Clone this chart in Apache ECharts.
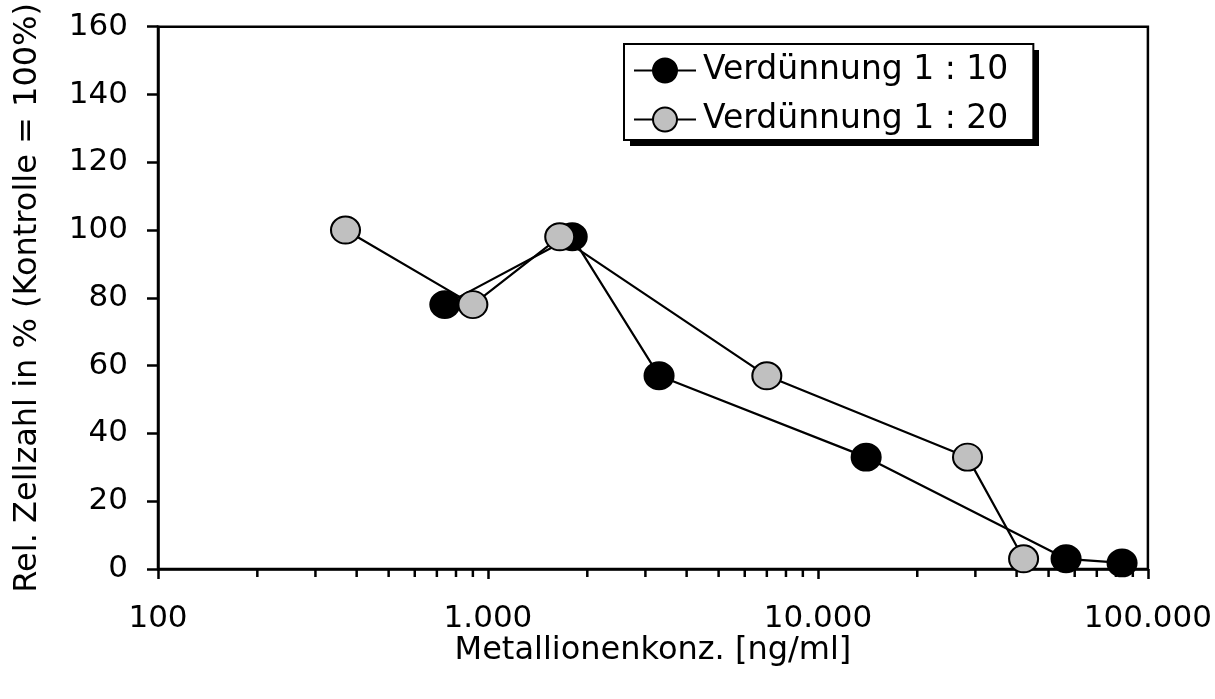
<!DOCTYPE html>
<html>
<head>
<meta charset="utf-8">
<script src="https://cdn.jsdelivr.net/npm/echarts@6/dist/echarts.min.js"></script>
<style>
  html, body { margin: 0; padding: 0; background: #fff; }
  #chart { width: 1215px; height: 699px; }
</style>
</head>
<body>
<div id="chart"></div>
<script>
// Metal ion concentration [ng/ml] and relative cell count [%] per dilution
const dil10Conc  = [740, 1800, 3300, 14000, 56500, 83500];
const dil10Cells = [78, 98, 57, 33, 3, 1.8];
const dil20Conc  = [370, 900, 1650, 7000, 28400, 42000];
const dil20Cells = [100, 78, 98, 57, 33, 3];

const seriesNames = ['Verdünnung 1 : 10', 'Verdünnung 1 : 20'];
const xTitle = 'Metallionenkonz. [ng/ml]';
const yTitle = 'Rel. Zellzahl in % (Kontrolle = 100%)';

// log-axis minor ticks between decades
const minorTicks = [];
for (const dec of [100, 1000, 10000]) {
  for (let k = 2; k <= 9; k++) minorTicks.push(dec * k);
}

const FONT = 'DejaVu Sans';

// German thousands separator: 1.000, 10.000, 100.000
function fmtDe(v) {
  return String(Math.round(v)).replace(/\B(?=(\d{3})+(?!\d))/g, '.');
}

const chart = echarts.init(document.getElementById('chart'), null, { renderer: 'canvas' });

const markerStyle = (fill) => ({
  color: fill,
  borderColor: '#000',
  borderWidth: 2
});

// legend box geometry (shadow drawn as a separate block behind it)
const LEG = { left: 624, top: 44, width: 409, height: 96, shadow: 6 };

chart.setOption({
  animation: false,
  backgroundColor: '#fff',
  textStyle: { fontFamily: FONT, color: '#000' },
  grid: {
    left: 158, right: 64, top: 24, bottom: 130,
    show: true, borderColor: '#000', borderWidth: 2.5, backgroundColor: 'transparent'
  },
  graphic: [{
    type: 'rect',
    left: LEG.left + LEG.shadow, top: LEG.top + LEG.shadow,
    shape: { width: LEG.width, height: LEG.height },
    style: { fill: '#000' },
    silent: true,
    z: 1
  }],
  legend: {
    orient: 'vertical',
    left: LEG.left, top: LEG.top,
    padding: [9, 25, 3, 9],
    itemWidth: 62, itemHeight: 30, itemGap: 14,
    backgroundColor: '#fff',
    borderColor: '#000', borderWidth: 2,
    z: 5,
    textStyle: { fontFamily: FONT, fontSize: 33, color: '#000', lineHeight: 35, padding: [0, 0, 0, 2] },
    data: seriesNames
  },
  xAxis: {
    type: 'log', logBase: 10, min: 100, max: 100000,
    name: xTitle, nameLocation: 'middle', nameGap: 66,
    nameMoveOverlap: false,
    nameTextStyle: { fontFamily: FONT, fontSize: 32, color: '#000' },
    axisLine: { show: true, onZero: false, lineStyle: { color: '#000', width: 2.5 } },
    axisTick: { show: true, inside: false, length: 10, lineStyle: { color: '#000', width: 2.5 } },
    axisLabel: { margin: 34, fontFamily: FONT, fontSize: 31, color: '#000', formatter: fmtDe },
    splitLine: { show: false }
  },
  yAxis: {
    type: 'value', min: 0, max: 160, interval: 20,
    name: yTitle, nameLocation: 'middle', nameGap: 114,
    nameMoveOverlap: false,
    nameTextStyle: { fontFamily: FONT, fontSize: 32, color: '#000' },
    axisLine: { show: true, lineStyle: { color: '#000', width: 2.5 } },
    axisTick: { show: true, inside: false, length: 11, lineStyle: { color: '#000', width: 2.5 } },
    axisLabel: { margin: 30, fontFamily: FONT, fontSize: 31, color: '#000' },
    splitLine: { show: false }
  },
  series: [
    {
      name: seriesNames[0],
      type: 'line',
      data: dil10Conc.map((x, i) => [x, dil10Cells[i]]),
      symbol: 'circle', symbolSize: [29, 27],
      lineStyle: { color: '#000', width: 2.2 },
      itemStyle: markerStyle('#000'),
      z: 3
    },
    {
      name: seriesNames[1],
      type: 'line',
      data: dil20Conc.map((x, i) => [x, dil20Cells[i]]),
      symbol: 'circle', symbolSize: [29, 27],
      lineStyle: { color: '#000', width: 2.2 },
      itemStyle: markerStyle('#c0c0c0'),
      z: 4
    },
    {
      // minor ticks below the logarithmic x axis
      type: 'custom',
      silent: true,
      clip: false,
      data: minorTicks.map(v => [v, 0]),
      renderItem: function (params, api) {
        const p = api.coord([api.value(0), 0]);
        return {
          type: 'line',
          shape: { x1: p[0], y1: p[1], x2: p[0], y2: p[1] + 8 },
          style: { stroke: '#000', lineWidth: 2.5 }
        };
      },
      z: 2
    }
  ]
});
</script>
</body>
</html>
